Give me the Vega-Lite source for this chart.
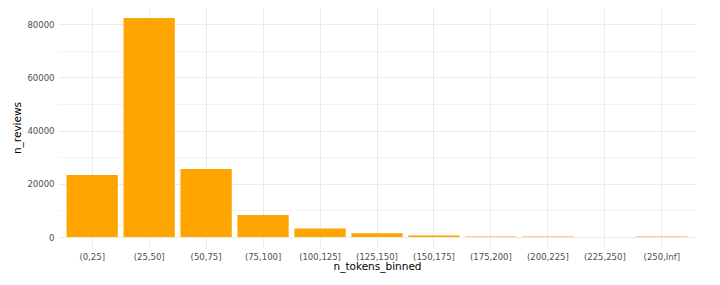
{
  "$schema": "https://vega.github.io/schema/vega-lite/v6.json",
  "width": 638,
  "height": 241,
  "autosize": {"type": "none"},
  "padding": {"left": 58, "top": 7, "right": 24, "bottom": 37},
  "background": "white",
  "config": {
    "view": {"stroke": null},
    "font": "DejaVu Sans",
    "axis": {
      "domain": false,
      "ticks": false,
      "labelFont": "DejaVu Sans",
      "labelFontSize": 8.5,
      "labelColor": "#4D4D4D",
      "titleFont": "DejaVu Sans",
      "titleFontSize": 10.5,
      "titleFontWeight": "normal",
      "titleColor": "#000000",
      "gridColor": "#EBEBEB"
    }
  },
  "data": {
    "values": [
      {"n_tokens_binned": "(0,25]", "n_reviews": 23300},
      {"n_tokens_binned": "(25,50]", "n_reviews": 82300},
      {"n_tokens_binned": "(50,75]", "n_reviews": 25600},
      {"n_tokens_binned": "(75,100]", "n_reviews": 8250},
      {"n_tokens_binned": "(100,125]", "n_reviews": 3250},
      {"n_tokens_binned": "(125,150]", "n_reviews": 1450},
      {"n_tokens_binned": "(150,175]", "n_reviews": 550},
      {"n_tokens_binned": "(175,200]", "n_reviews": 220},
      {"n_tokens_binned": "(200,225]", "n_reviews": 200},
      {"n_tokens_binned": "(225,250]", "n_reviews": 40},
      {"n_tokens_binned": "(250,Inf]", "n_reviews": 230}
    ]
  },
  "mark": {"type": "bar", "color": "#FFA500"},
  "encoding": {
    "x": {
      "field": "n_tokens_binned",
      "type": "nominal",
      "sort": null,
      "scale": {"paddingInner": 0.1, "paddingOuter": 0.15},
      "axis": {
        "title": "n_tokens_binned",
        "labelAngle": 0,
        "labelPadding": 4,
        "titlePadding": 1,
        "grid": true,
        "bandPosition": 0.5,
        "gridWidth": 1
      }
    },
    "y": {
      "field": "n_reviews",
      "type": "quantitative",
      "scale": {"domain": [-4115, 86415], "nice": false, "zero": false},
      "axis": {
        "title": "n_reviews",
        "values": [0, 10000, 20000, 30000, 40000, 50000, 60000, 70000, 80000],
        "labelExpr": "datum.value % 20000 === 0 ? format(datum.value, 'd') : ''",
        "labelPadding": 4,
        "titlePadding": 4,
        "grid": true,
        "gridWidth": {"condition": {"test": "datum.value % 20000 === 0", "value": 1}, "value": 0.6}
      }
    },
    "y2": {"datum": 0}
  }
}
